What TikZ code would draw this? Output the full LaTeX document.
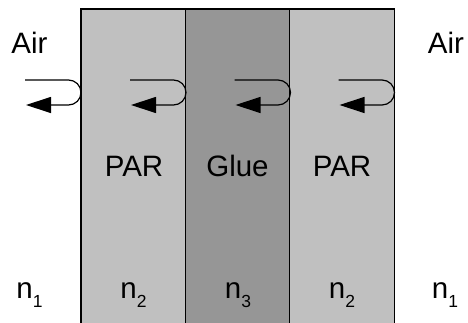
\documentclass[tikz,border=0pt]{standalone}
\usepackage{fontspec}
\setmainfont{Liberation Sans}
\usetikzlibrary{arrows.meta,calc}
\definecolor{parfill}{RGB}{192,192,192}
\definecolor{gluefill}{RGB}{150,150,150}
\newcommand{\nsub}[1]{n\raisebox{-9pt}{\fontsize{17.5}{17.5}\selectfont #1}}
\begin{document}
\begin{tikzpicture}[x=1pt,y=1pt,
  layer/.style={draw=black,line width=1.3pt,minimum width=105pt,minimum height=320pt,inner sep=0pt,outer sep=0pt},
  lbl/.style={font=\fontsize{29.5}{34}\selectfont,anchor=base,inner sep=0pt},
  refl/.style={line width=1.2pt,-{Triangle[length=25pt,width=16pt]}}]
\useasboundingbox (0,0) rectangle (468,322);
\clip (0,0) rectangle (468,322);
% layers
\node[layer,fill=parfill]  (par1) at (133.5,153) {};
\node[layer,fill=gluefill] (glue) at (238,153) {};
\node[layer,fill=parfill]  (par2) at (342,153) {};
\draw[line width=1.3pt] (par1.north west) -- (par2.north east);
% reflection points
\coordinate (r1) at (81,229.5);
\coordinate (r2) at (par1.east |- r1);
\coordinate (r3) at (glue.east |- r1);
\coordinate (r4) at (par2.east |- r1);
\foreach \r in {r1,r2,r3,r4}{
  \draw[refl] ($(\r)+(-56,12.5)$) -- ($(\r)+(-12.5,12.5)$)
     arc[start angle=90,end angle=-90,radius=12.5] -- ($(\r)+(-55,-12.5)$);
}
% labels
\node[lbl] (airL) at (29.5,269) {Air};
\node[lbl] (airR) at (446,269) {Air};
\node[lbl] (tpar1) at (134,146) {PAR};
\node[lbl] (tglue) at (237.5,146) {Glue};
\node[lbl] (tpar2) at (342,146) {PAR};
\node[lbl] (n1L) at (29.5,24) {\nsub{1}};
\node[lbl] (n2a) at (133.5,24) {\nsub{2}};
\node[lbl] (n3) at (238,24) {\nsub{3}};
\node[lbl] (n2b) at (342,24) {\nsub{2}};
\node[lbl] (n1R) at (445,24) {\nsub{1}};
\end{tikzpicture}
\end{document}
